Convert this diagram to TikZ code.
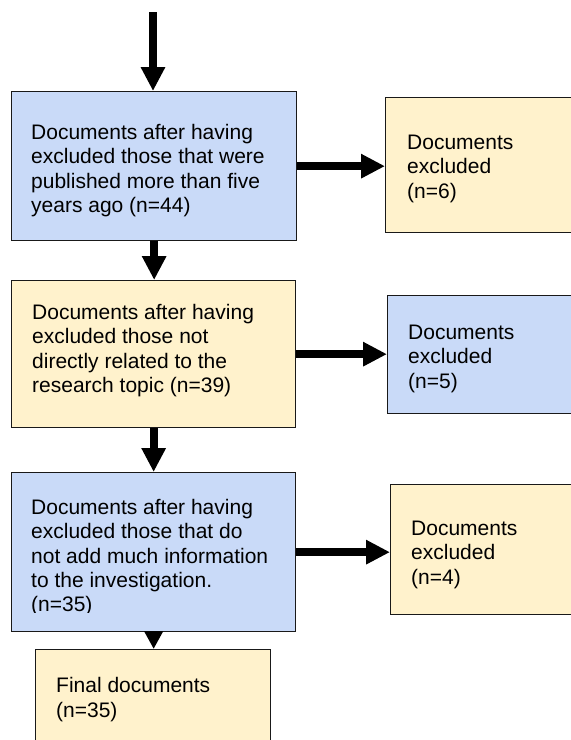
\documentclass[tikz,border=0pt]{standalone}
\usepackage{fontspec}
\setmainfont{Liberation Sans}
\usetikzlibrary{arrows.meta,calc}
\definecolor{boxblue}{HTML}{C9DAF8}
\definecolor{boxyellow}{HTML}{FFF2CC}
\newcommand\fstrut{\rule{0pt}{16pt}}
\begin{document}
\begin{tikzpicture}[x=1pt,y=-1pt,
  box/.style={draw=black!90, line width=1.3pt, inner sep=0pt, anchor=north west},
  bluebox/.style={box, fill=boxblue},
  yellowbox/.style={box, fill=boxyellow},
  txt/.style={anchor=north west, inner sep=0pt, align=left, font=\fontsize{21pt}{24.4pt}\selectfont},
  flow/.style={line width=8pt, -{Triangle[width=23pt,length=24pt]}},
  shortflow/.style={line width=8pt, -{Triangle[width=18pt,length=18pt]}}]
\useasboundingbox (0,0) rectangle (571,740);
\clip (0,0) rectangle (571,740);
% boxes
\node[bluebox, minimum width=285pt, minimum height=149pt] (a) at (11,91) {};
\node[yellowbox, minimum width=215pt, minimum height=135pt] (r1) at (385,97) {};
\node[yellowbox, minimum width=284pt, minimum height=147pt] (b) at (11,280) {};
\node[bluebox, minimum width=213pt, minimum height=118pt] (r2) at (387,295) {};
\node[bluebox, minimum width=284pt, minimum height=159pt] (c) at (11,472) {};
\node[yellowbox, minimum width=210pt, minimum height=130pt] (r3) at (390,484) {};
\node[yellowbox, minimum width=235pt, minimum height=120pt] (d) at (35,649) {};
% texts
\node[txt] (ta) at (31,123) {\fstrut Documents after having\\excluded those that were\\published more than five\\years ago (n=44)};
\node[txt] (tr1) at (407,133) {\fstrut Documents\\excluded\\(n=6)};
\node[txt] (tb) at (32,303) {\fstrut Documents after having\\excluded those not\\directly related to the\\research topic (n=39)};
\node[txt] (tr2) at (408,323) {\fstrut Documents\\excluded\\(n=5)};
\begin{scope}
\clip (0,0) rectangle (571,612);
\node[txt] (tc) at (31,498) {\fstrut Documents after having\\excluded those that do\\not add much information\\to the investigation.\\(n=35)};
\end{scope}
\node[txt] (tr3) at (411,519) {\fstrut Documents\\excluded\\(n=4)};
\node[txt] (td) at (56,676.5) {\fstrut Final documents\\(n=35)};
% connectors
\coordinate (start) at (153,12);
\draw[flow] (start) -- (start |- a.north);
\draw[flow] (a.south) -- (a.south |- b.north);
\draw[flow] (b.south) -- (b.south |- c.north);
\draw[shortflow] (c.south) -- (c.south |- d.north);
\draw[flow] (a.east) -- (a.east -| r1.west);
\draw[flow] (b.east) -- (b.east -| r2.west);
\draw[flow] (c.east) -- (c.east -| r3.west);
\end{tikzpicture}
\end{document}
